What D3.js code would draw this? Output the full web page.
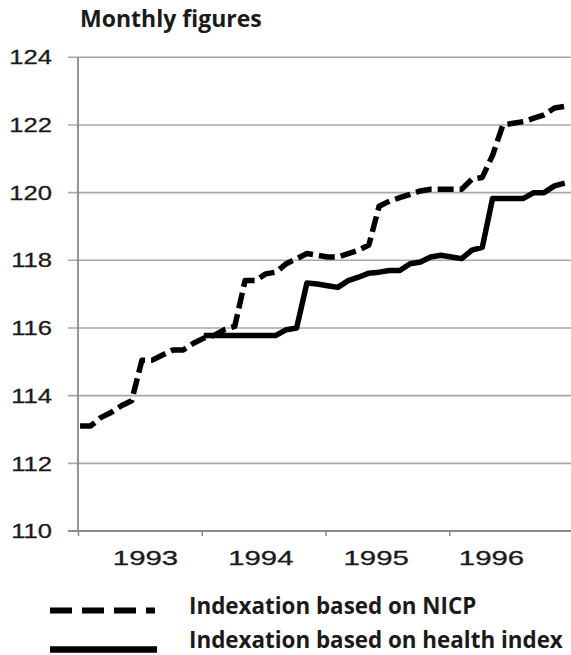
<!DOCTYPE html>
<html><head><meta charset="utf-8">
<script src="https://cdn.jsdelivr.net/npm/d3@7"></script>
<style>body{margin:0;background:#fff;} svg{display:block}</style>
</head><body>
<svg id="c" width="571" height="655"></svg>
<script>
// ---- data ----
const years = ["1993", "1994", "1995", "1996"];
const months = years.flatMap(y => d3.range(1, 13).map(m => y + "-" + String(m).padStart(2, "0")));
const nicp = [113.1,113.1,113.35,113.5,113.7,113.85,115.05,115.05,115.2,115.35,115.35,115.55,
              115.7,115.78,115.95,116.05,117.4,117.4,117.6,117.65,117.9,118.05,118.2,118.15,
              118.1,118.1,118.2,118.3,118.45,119.6,119.75,119.85,119.95,120.05,120.1,120.1,
              120.1,120.1,120.4,120.45,121.1,122.0,122.05,122.1,122.2,122.3,122.5,122.55];
const health = [null,null,null,null,null,null,null,null,null,null,null,null,
              115.78,115.78,115.78,115.78,115.78,115.78,115.78,115.78,115.95,116.0,117.33,117.3,
              117.25,117.2,117.4,117.5,117.62,117.65,117.7,117.7,117.9,117.95,118.1,118.15,
              118.1,118.05,118.3,118.38,119.83,119.83,119.83,119.83,120.0,120.0,120.2,120.28];
const yTicks = [110, 112, 114, 116, 118, 120, 122, 124];
const seriesNames = ["Indexation based on NICP", "Indexation based on health index"];
const title = "Monthly figures";

// ---- layout ----
const svg = d3.select("#c");
const x = d3.scaleLinear().domain([0, 48]).range([78, 573]);
const y = d3.scaleLinear().domain([110, 124]).range([531, 57.3]);
const xLab = d3.scalePoint().domain(years).range([145.5, 491.5]);
const gridCol = "#a8a8a8";
const textCol = "#1a1a1a";

// gridlines
svg.append("g").selectAll("line").data(yTicks.filter(d => d > 110)).join("line")
  .attr("x1", 68).attr("x2", 571)
  .attr("y1", d => y(d)).attr("y2", d => y(d))
  .attr("stroke", gridCol).attr("stroke-width", 1.6);

// x axis
const xa = svg.append("g").attr("transform", `translate(0,${y(110)})`)
  .call(d3.axisBottom(x).tickValues([0, 12, 24, 36, 48]).tickSize(5).tickFormat(""));
xa.select(".domain").attr("stroke", "#8a8a8a").attr("stroke-width", 1.8).attr("d", `M68,0H571`);
xa.selectAll(".tick line").attr("stroke", "#8a8a8a").attr("stroke-width", 1.5);

// y axis line
svg.append("line").attr("x1", x(0)).attr("x2", x(0)).attr("y1", y(124)).attr("y2", y(110))
  .attr("stroke", "#8a8a8a").attr("stroke-width", 1.8);

// y labels
svg.append("g").selectAll("text").data(yTicks).join("text")
  .attr("transform", d => `translate(52,${y(d)}) scale(1.22,1)`)
  .attr("text-anchor", "end").attr("dominant-baseline", "central")
  .attr("font-family", "Liberation Sans, Arial, sans-serif").attr("font-size", 21)
  .attr("stroke", textCol).attr("stroke-width", 0.3)
  .attr("fill", textCol).text(d => d);

// x labels
svg.append("g").selectAll("text").data(years).join("text")
  .attr("transform", d => `translate(${xLab(d)},${557.5}) scale(1.4,1)`)
  .attr("text-anchor", "middle").attr("dominant-baseline", "central")
  .attr("font-family", "Liberation Sans, Arial, sans-serif").attr("font-size", 21)
  .attr("stroke", textCol).attr("stroke-width", 0.3)
  .attr("fill", textCol).text(d => d);

// title
svg.append("text").attr("x", 80).attr("y", 27)
  .attr("font-family", "Open Sans, sans-serif").attr("font-weight", 700).attr("font-size", 23)
  .attr("fill", textCol).text(title);

// lines
const line = d3.line().defined(d => d != null).x((d, i) => x(i + 0.2)).y(d => y(d));
svg.append("path").datum(health).attr("d", line)
  .attr("fill", "none").attr("stroke", "#000").attr("stroke-width", 5.5)
  .attr("stroke-linejoin", "round");
svg.append("path").datum(nicp).attr("d", line)
  .attr("fill", "none").attr("stroke", "#000").attr("stroke-width", 5.5)
  .attr("stroke-dasharray", "16,6").attr("stroke-linejoin", "round");

// legend
const lg = svg.append("g");
const legY = [610.5, 649.5];
lg.append("line").attr("x1", 50).attr("x2", 155).attr("y1", legY[0]).attr("y2", legY[0])
  .attr("stroke", "#000").attr("stroke-width", 6).attr("stroke-dasharray", "22,10");
lg.append("line").attr("x1", 50).attr("x2", 157).attr("y1", legY[1]).attr("y2", legY[1])
  .attr("stroke", "#000").attr("stroke-width", 6.5);
lg.selectAll("text").data(seriesNames).join("text")
  .attr("x", 189).attr("y", (d, i) => [614, 648][i])
  .attr("font-family", "Open Sans, sans-serif").attr("font-weight", 700).attr("font-size", 22.4)
  .attr("fill", textCol).text(d => d);
</script>
</body></html>
